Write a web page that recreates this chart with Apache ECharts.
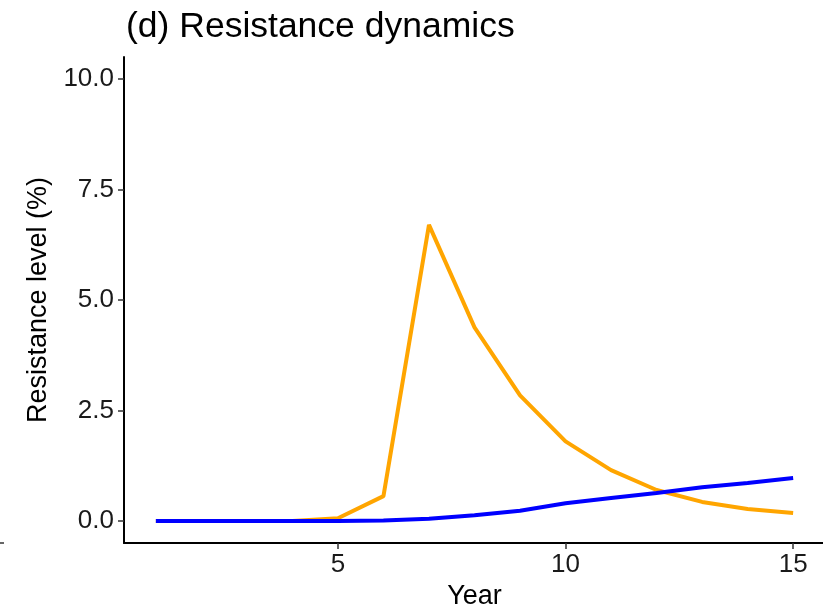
<!DOCTYPE html>
<html>
<head>
<meta charset="utf-8">
<script src="https://cdn.jsdelivr.net/npm/echarts@6/dist/echarts.min.js"></script>
<style>
  html, body { margin: 0; padding: 0; background: #fff; }
  #chart { width: 823px; height: 611px; }
</style>
</head>
<body>
<div id="chart"></div>
<script>
// data
const years = [1, 2, 3, 4, 5, 6, 7, 8, 9, 10, 11, 12, 13, 14, 15];
const orangeVals = [0, 0, 0, 0, 0.06, 0.56, 6.7, 4.38, 2.84, 1.8, 1.15, 0.7, 0.43, 0.27, 0.18];
const blueVals = [0, 0, 0, 0, 0, 0.01, 0.05, 0.13, 0.23, 0.4, 0.52, 0.63, 0.76, 0.86, 0.97];
const xTicks = [5, 10, 15];
const yTicks = [0, 2.5, 5, 7.5, 10];

const chart = echarts.init(document.getElementById('chart'));
const font = 'Liberation Sans, Arial, sans-serif';

const pairs = vals => years.map((y, i) => [y, vals[i]]);

const option = {
  animation: false,
  backgroundColor: '#fff',
  title: {
    text: '(d) Resistance dynamics',
    left: 121,
    top: 4,
    textStyle: { fontFamily: font, fontSize: 35.5, fontWeight: 'normal', color: '#000' }
  },
  grid: { left: 124, right: -2, top: 57, bottom: 68, outerBoundsMode: 'none', containLabel: false },
  xAxis: {
    type: 'value',
    min: 0.3,
    max: 15.7,
    name: 'Year',
    nameLocation: 'middle',
    nameGap: 40,
    nameTextStyle: { fontFamily: font, fontSize: 27, color: '#000' },
    axisLine: { show: true, onZero: false, lineStyle: { color: '#000', width: 2 } },
    axisTick: { show: true, customValues: xTicks, length: 6, lineStyle: { color: '#333', width: 1.5 } },
    axisLabel: { customValues: xTicks, fontFamily: font, fontSize: 26, color: '#1a1a1a', margin: 9 },
    splitLine: { show: false }
  },
  yAxis: {
    type: 'value',
    min: -0.5,
    max: 10.5,
    name: 'Resistance level (%)',
    nameLocation: 'middle',
    nameGap: 69,
    nameTextStyle: { fontFamily: font, fontSize: 27, color: '#000' },
    axisLine: { show: true, onZero: false, lineStyle: { color: '#000', width: 2 } },
    axisTick: { show: true, customValues: yTicks, length: 6, lineStyle: { color: '#333', width: 1.5 } },
    axisLabel: {
      customValues: yTicks,
      fontFamily: font, fontSize: 26, color: '#1a1a1a', margin: 10,
      formatter: v => v.toFixed(1)
    },
    splitLine: { show: false }
  },
  series: [
    {
      name: 'orange',
      type: 'line',
      data: pairs(orangeVals),
      symbol: 'none',
      lineStyle: { color: '#FFA500', width: 4 },
      itemStyle: { color: '#FFA500' }
    },
    {
      name: 'blue',
      type: 'line',
      data: pairs(blueVals),
      symbol: 'none',
      lineStyle: { color: '#0000FF', width: 4 },
      itemStyle: { color: '#0000FF' }
    }
  ],
  graphic: [
    {
      // stray tick at the left edge of the figure
      type: 'line',
      shape: { x1: 0, y1: 543, x2: 4, y2: 543 },
      style: { stroke: '#333', lineWidth: 1.5 }
    }
  ]
};

chart.setOption(option);
</script>
</body>
</html>
